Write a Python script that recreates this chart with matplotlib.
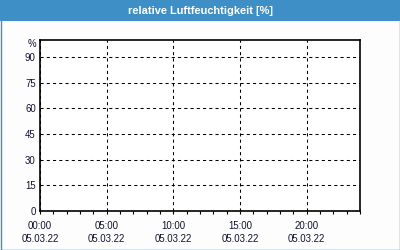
import matplotlib
matplotlib.use("Agg")
import matplotlib.pyplot as plt
from matplotlib.patches import Rectangle
from matplotlib.ticker import MultipleLocator
import matplotlib.transforms as mtransforms

title = "relative Luftfeuchtigkeit [%]"
hours = [0, 5, 10, 15, 20]
time_labels = ["00:00", "05:00", "10:00", "15:00", "20:00"]
date_labels = ["05.03.22", "05.03.22", "05.03.22", "05.03.22", "05.03.22"]
y_ticks = [0, 15, 30, 45, 60, 75, 90]
unit = "%"
x_range = (0, 24)
y_range = (0, 100)

blue = "#3d8fc6"
text_col = "#10102e"

plt.rcParams["font.family"] = ["Liberation Sans", "DejaVu Sans"]

fig = plt.figure(figsize=(4, 2.5), dpi=100, facecolor="#fcfdfc")

# title bar and frame
fig.patches.append(Rectangle((0, 229 / 250), 1, 21 / 250, transform=fig.transFigure,
                             facecolor=blue, edgecolor="none", zorder=0))
fig.patches.append(Rectangle((0.5 / 400, 0.5 / 250), 399 / 400, 249 / 250, transform=fig.transFigure,
                             facecolor="none", edgecolor=blue, linewidth=1.0, zorder=1))
fig.text(0.5, 239.5 / 250, title, color="white", fontsize=7.9, fontweight="bold",
         ha="center", va="center")

ax = fig.add_axes([40 / 400, 39 / 250, 320 / 400, 171 / 250])
ax.set_facecolor("white")
ax.set_xlim(*x_range)
ax.set_ylim(*y_range)

ax.set_xticks(hours)
ax.set_xticklabels([t + "\n" + d for t, d in zip(time_labels, date_labels)],
                   fontsize=6.9, color=text_col, linespacing=1.45)
ax.xaxis.set_minor_locator(MultipleLocator(1))
ax.tick_params(axis="x", which="both", direction="out", length=2.5, width=0.8, pad=4.5)
ax.set_yticks(y_ticks)
ax.set_yticklabels([str(v) for v in y_ticks], fontsize=6.9, color=text_col)
ax.tick_params(axis="y", length=0, pad=3)

ax.grid(True, which="major", color="black", linestyle=(0, (3, 3)), linewidth=0.75)
for s in ax.spines.values():
    s.set_linewidth(1.2)
    s.set_color("black")

trans = mtransforms.blended_transform_factory(ax.transAxes, ax.transData)
ax.text(-0.011, 97.5, unit, transform=trans, ha="right", va="center",
        fontsize=6.9, color=text_col)

fig.savefig("out.png", dpi=100, facecolor=fig.get_facecolor())
